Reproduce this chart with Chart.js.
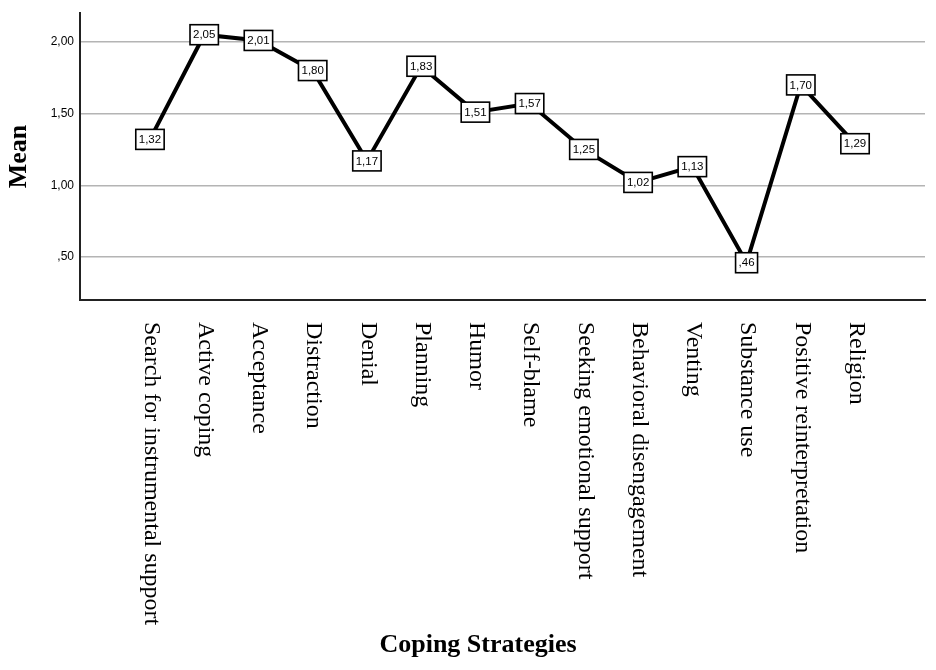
<!DOCTYPE html>
<html>
<head>
<meta charset="utf-8">
<script src="https://cdn.jsdelivr.net/npm/chart.js@4.4.1/dist/chart.umd.min.js"></script>
<style>
html,body{margin:0;padding:0;background:#fff;}
#wrap{width:936px;height:670px;}
</style>
</head>
<body>
<div id="wrap"><canvas id="c" width="936" height="670"></canvas></div>
<script>
const categories = [
  "Search for instrumental support",
  "Active coping",
  "Acceptance",
  "Distraction",
  "Denial",
  "Planning",
  "Humor",
  "Self-blame",
  "Seeking emotional support",
  "Behavioral disengagement",
  "Venting",
  "Substance use",
  "Positive reinterpretation",
  "Religion"
];
const means = [1.32, 2.05, 2.01, 1.80, 1.17, 1.83, 1.51, 1.57, 1.25, 1.02, 1.13, 0.46, 1.70, 1.29];
const yTicks = [0.5, 1.0, 1.5, 2.0];
const yTitle = "Mean";
const xTitle = "Coping Strategies";

function fmt(v){
  let s = v.toFixed(2).replace('.', ',');
  if (s.startsWith('0,')) s = s.slice(1);
  return s;
}

const points = means.map((v, i) => ({x: i, y: v}));

const labelPlugin = {
  id: 'labels',
  afterDatasetsDraw(chart){
    const ctx = chart.ctx;
    const meta = chart.getDatasetMeta(0);
    ctx.save();
    ctx.font = '11.5px "Liberation Sans", Arial, sans-serif';
    ctx.textAlign = 'center';
    ctx.textBaseline = 'middle';
    meta.data.forEach((pt, i) => {
      const t = fmt(means[i]);
      const w = ctx.measureText(t).width + 6;
      const h = 20;
      const x = pt.x, y = pt.y;
      ctx.fillStyle = '#fff';
      ctx.fillRect(x - w/2, y - h/2, w, h);
      ctx.strokeStyle = '#000';
      ctx.lineWidth = 1.6;
      ctx.strokeRect(x - w/2, y - h/2, w, h);
      ctx.fillStyle = '#000';
      ctx.fillText(t, x, y + 0.5);
    });
    ctx.restore();
  },
  afterDraw(chart){
    const ctx = chart.ctx;
    const xs = chart.scales.x;
    const top = chart.chartArea.bottom + 22;
    ctx.save();
    ctx.font = '24px "Liberation Serif", "Times New Roman", serif';
    ctx.fillStyle = '#000';
    ctx.textAlign = 'left';
    ctx.textBaseline = 'middle';
    categories.forEach((c, i) => {
      const x = xs.getPixelForValue(i);
      ctx.save();
      ctx.translate(x + 1, top);
      ctx.rotate(Math.PI / 2);
      ctx.fillText(c, 0, 0);
      ctx.restore();
    });
    ctx.font = 'bold 26px "Liberation Serif", "Times New Roman", serif';
    ctx.textAlign = 'center';
    ctx.fillText(xTitle, 478, 645);
    ctx.restore();
  }
};

new Chart(document.getElementById('c'), {
  type: 'line',
  data: {
    datasets: [{
      data: points,
      borderColor: '#000',
      borderWidth: 4,
      pointRadius: 0,
      pointHoverRadius: 0,
      tension: 0,
      fill: false,
      clip: false
    }]
  },
  options: {
    responsive: false,
    animation: false,
    devicePixelRatio: 1,
    layout: {padding: {left: 0, right: 11, top: 12, bottom: 0}},
    plugins: {legend: {display: false}, tooltip: {enabled: false}},
    scales: {
      x: {
        type: 'linear',
        min: -1.29,
        max: 14.29,
        grid: {display: false},
        border: {display: true, color: '#222', width: 2},
        ticks: {display: false},
        title: {display: false},
        afterFit(s){ s.height = 370; }
      },
      y: {
        type: 'linear',
        min: 0.2,
        max: 2.2,
        afterBuildTicks(s){ s.ticks = yTicks.map(v => ({value: v})); },
        grid: {color: '#b4b4b4', lineWidth: 1.5, drawTicks: false},
        border: {display: true, color: '#222', width: 2},
        ticks: {
          color: '#000',
          padding: 6,
          font: {family: '"Liberation Sans", Arial, sans-serif', size: 12},
          callback: (v) => fmt(v)
        },
        title: {
          display: true,
          text: yTitle,
          color: '#000',
          font: {family: '"Liberation Serif", "Times New Roman", serif', size: 26, weight: 'bold', lineHeight: 1},
          padding: {top: 6, bottom: 0}
        },
        afterFit(s){ s.width = 80; }
      }
    }
  },
  plugins: [labelPlugin]
});
</script>
</body>
</html>
